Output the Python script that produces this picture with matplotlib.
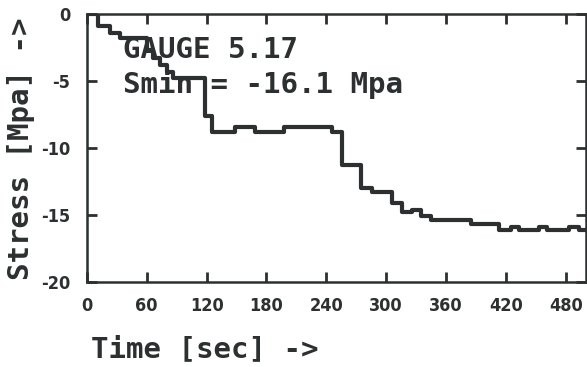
import numpy as np
import matplotlib
matplotlib.use('Agg')
import matplotlib.pyplot as plt
from matplotlib import font_manager

# pick a narrow face if one is installed, the scan uses a condensed plotter font
narrow = [f.name for f in font_manager.fontManager.ttflist
          if 'Narrow' in f.name or 'Condensed' in f.name
          or f.stretch in ('condensed', 'semi-condensed', 'extra-condensed')]
plt.rcParams['font.family'] = (narrow[:1] or []) + ['DejaVu Sans']
plt.rcParams['font.stretch'] = 'condensed'
# fixed pitch lettering for the labels, like the plotter output
mono = ['DejaVu Sans Mono', 'Liberation Mono']

# stress history (step values, start time of each step)
step_time = [0, 11, 23, 33, 60, 66, 73, 80, 86, 118, 125, 148, 168, 198, 246,
             256, 275, 286, 306, 316, 326, 335, 345, 385, 413, 425, 433, 453,
             461, 483, 493, 500]
step_stress = [0.0, -0.9, -1.4, -1.8, -2.7, -3.3, -3.8, -4.3, -4.8, -7.6, -8.8,
               -8.4, -8.8, -8.4, -8.8, -11.3, -13.0, -13.3, -14.1, -14.8, -14.6,
               -15.1, -15.4, -15.7, -16.1, -15.9, -16.1, -15.9, -16.1, -15.9,
               -16.1, -16.1]

x_ticks = [0, 60, 120, 180, 240, 300, 360, 420, 480]
y_ticks = [0, -5, -10, -15, -20]

gauge_label = 'GAUGE 5.17'
smin_label = 'Smin = -16.1 Mpa'
x_label = 'Time [sec] ->'
y_label = 'Stress [Mpa] ->'

ink = '#2c3030'

fig = plt.figure(figsize=(5.87, 3.67), dpi=100)
ax = fig.add_axes([0.148, 0.2316, 0.85, 0.7302])

ax.plot(step_time, step_stress, drawstyle='steps-post', color=ink, lw=3.0,
        solid_joinstyle='round')

ax.set_xlim(0, 500)
ax.set_ylim(-20, 0)
ax.set_xticks(x_ticks)
ax.set_yticks(y_ticks)
ax.set_xticklabels([str(v) for v in x_ticks], fontsize=13, fontweight='bold',
                   color=ink)
ax.set_yticklabels([str(v) for v in y_ticks], fontsize=13, fontweight='bold',
                   color=ink)
ax.tick_params(direction='in', length=7, width=2, color=ink, top=True,
               right=True)
ax.tick_params(axis='x', pad=11)
ax.tick_params(axis='y', pad=12)
for s in ax.spines.values():
    s.set_linewidth(1.8)
    s.set_color(ink)

ax.text(36, -3.3, gauge_label, family=mono, fontsize=21, fontweight='bold',
        color=ink, va='baseline', ha='left')
ax.text(36, -5.9, smin_label, family=mono, fontsize=21, fontweight='bold',
        color=ink, va='baseline', ha='left')

fig.text(0.155, 0.028, x_label, family=mono, fontsize=21, fontweight='bold',
         color=ink, ha='left', va='baseline')
fig.text(0.036, 0.595, y_label, family=mono, fontsize=21, fontweight='bold',
         color=ink, ha='center', va='center', rotation=90)

fig.savefig('out.png', dpi=100, facecolor='white')
